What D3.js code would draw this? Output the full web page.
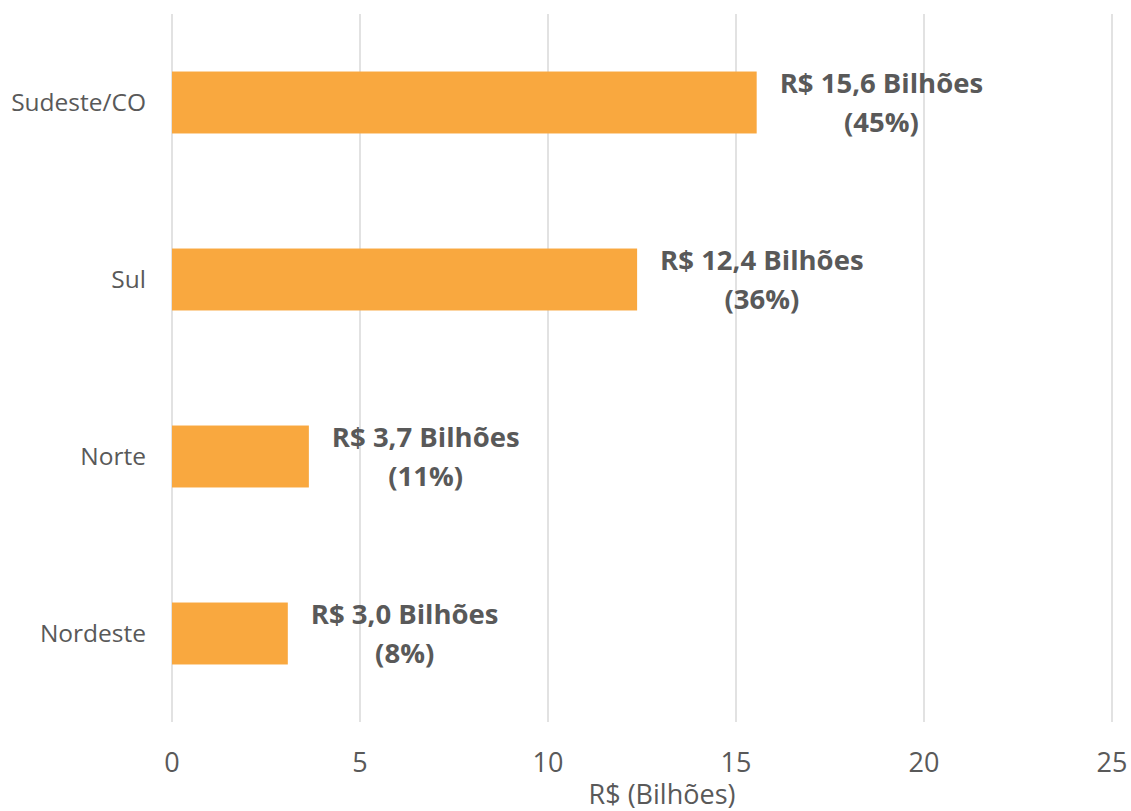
<!DOCTYPE html>
<html><head><meta charset="utf-8">
<script src="https://cdn.jsdelivr.net/npm/d3@7"></script>
<style>body{margin:0;background:#fff;} svg{display:block;font-family:"Open Sans",sans-serif;}</style>
</head><body>
<svg id="chart" width="1131" height="811"></svg>
<script>
const categories = ["Sudeste/CO", "Sul", "Norte", "Nordeste"];
const values = [15.55, 12.37, 3.64, 3.08];
const valueLabels = ["R$ 15,6 Bilhões", "R$ 12,4 Bilhões", "R$ 3,7 Bilhões", "R$ 3,0 Bilhões"];
const shareLabels = ["(45%)", "(36%)", "(11%)", "(8%)"];
const xTicks = [0, 5, 10, 15, 20, 25];
const xTitle = "R$ (Bilhões)";

const svg = d3.select("#chart");
const pLeft = 172, pRight = 1112, pTop = 14, pBottom = 722;
const x = d3.scaleLinear().domain([0, 25]).range([pLeft, pRight]);
const y = d3.scaleBand().domain(categories).range([pTop, pBottom]).paddingInner(0.65).paddingOuter(0.325);
const gray = "#595959";

svg.append("g").selectAll("line").data(xTicks).join("line")
  .attr("x1", d => x(d)).attr("x2", d => x(d)).attr("y1", pTop).attr("y2", pBottom)
  .attr("stroke", "#d9d9d9").attr("stroke-width", 1.5);

svg.append("g").selectAll("rect").data(values).join("rect")
  .attr("x", x(0)).attr("y", (d, i) => y(categories[i]))
  .attr("width", d => x(d) - x(0)).attr("height", y.bandwidth())
  .attr("fill", "#F9A83F");

svg.append("g").selectAll("text").data(categories).join("text")
  .attr("x", 146).attr("y", d => y(d) + y.bandwidth() / 2).attr("dy", "0.35em")
  .attr("text-anchor", "end").attr("font-size", 24.5).attr("fill", gray).text(d => d);

svg.append("g").selectAll("text").data(xTicks).join("text")
  .attr("x", d => x(d)).attr("y", 772).attr("text-anchor", "middle")
  .attr("font-size", 27).attr("fill", gray).text(d => d);

svg.append("text").attr("x", 662).attr("y", 804).attr("text-anchor", "middle")
  .attr("font-size", 27).attr("fill", gray).text(xTitle);

const lab = svg.append("g").selectAll("g").data(values).join("g");
lab.each(function(d, i) {
  const g = d3.select(this);
  const cy = y(categories[i]) + y.bandwidth() / 2;
  const t1 = g.append("text").attr("font-size", 27.5).attr("font-weight", "bold").attr("fill", gray)
    .attr("text-anchor", "middle").text(valueLabels[i]);
  const w = t1.node().getComputedTextLength();
  const cx = x(d) + 23 + w / 2;
  t1.attr("x", cx).attr("y", cy - 10);
  g.append("text").attr("font-size", 27.5).attr("font-weight", "bold").attr("fill", gray)
    .attr("text-anchor", "middle").attr("x", cx).attr("y", cy + 29).text(shareLabels[i]);
});
</script>
</body></html>
